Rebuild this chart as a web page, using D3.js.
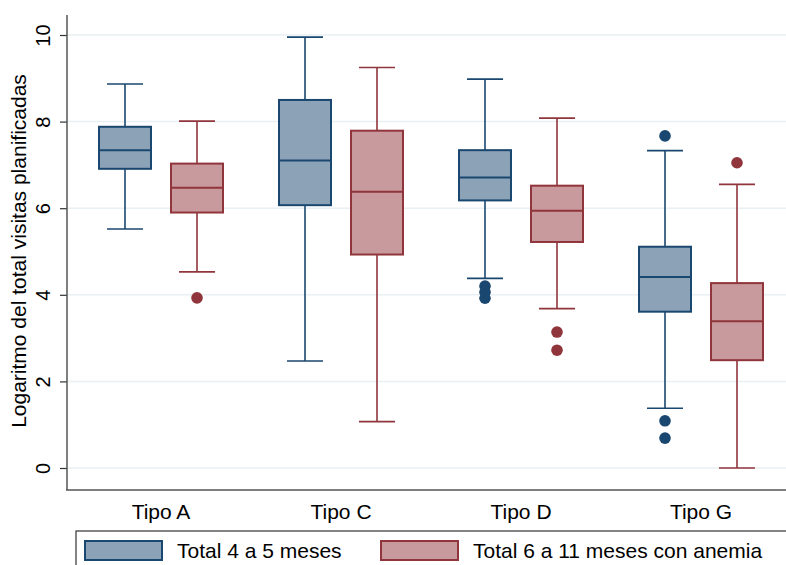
<!DOCTYPE html>
<html>
<head>
<meta charset="utf-8">
<script src="https://cdn.jsdelivr.net/npm/d3@7"></script>
<style>
  html, body { margin: 0; padding: 0; background: #ffffff; }
  svg { display: block; font-family: "Liberation Sans", Arial, sans-serif; }
</style>
</head>
<body>
<svg id="chart" width="786" height="565"></svg>
<script>
// Categories and series
const categories = ["Tipo A", "Tipo C", "Tipo D", "Tipo G"];
const seriesNames = ["Total 4 a 5 meses", "Total 6 a 11 meses con anemia"];
const yTicks = [0, 2, 4, 6, 8, 10];

// Box statistics: Total 4 a 5 meses
const lowA = [5.52, 2.47, 4.38, 1.38];
const q1A = [6.91, 6.07, 6.18, 3.61];
const medA = [7.34, 7.10, 6.71, 4.41];
const q3A = [7.88, 8.50, 7.34, 5.11];
const highA = [8.87, 9.95, 8.98, 7.33];
const outA = [[], [], [4.20, 4.06, 3.92], [7.67, 1.09, 0.69]];

// Box statistics: Total 6 a 11 meses con anemia
const lowB = [4.53, 1.07, 3.68, 0.00];
const q1B = [5.90, 4.93, 5.22, 2.49];
const medB = [6.47, 6.38, 5.94, 3.39];
const q3B = [7.03, 7.79, 6.52, 4.27];
const highB = [8.01, 9.25, 8.08, 6.55];
const outB = [[3.93], [], [3.14, 2.72], [7.05]];

const strokeColors = ["#1a476f", "#90353b"];
const fillColors = ["#8ca3b7", "#c89a9d"];

const stats = [
  { low: lowA, q1: q1A, med: medA, q3: q3A, high: highA, out: outA },
  { low: lowB, q1: q1B, med: medB, q3: q3B, high: highB, out: outB }
];

const boxes = [];
stats.forEach((s, si) => {
  categories.forEach((c, ci) => {
    boxes.push({
      cat: c, series: seriesNames[si], si,
      low: s.low[ci], q1: s.q1[ci], med: s.med[ci], q3: s.q3[ci], high: s.high[ci],
      out: s.out[ci]
    });
  });
});

const svg = d3.select("#chart");
const font = "\"Liberation Sans\", Arial, sans-serif";

const plot = { left: 67, right: 786, top: 15, bottom: 490 };

const x = d3.scaleBand().domain(categories).range([71, 791]).padding(0);
const xSub = d3.scaleBand().domain(seriesNames).range([-72, 72]).padding(0);
const y = d3.scaleLinear().domain([0, 10]).range([468, 35]);

const boxW = 52;
const capW = 36;

// Gridlines
svg.append("g")
  .selectAll("line")
  .data(yTicks)
  .join("line")
  .attr("x1", plot.left)
  .attr("x2", plot.right)
  .attr("y1", d => y(d))
  .attr("y2", d => y(d))
  .attr("stroke", "#e9f0f3")
  .attr("stroke-width", 1.5);

// Y axis
const yAxis = svg.append("g")
  .attr("transform", `translate(${plot.left},0)`)
  .call(d3.axisLeft(y).tickValues(yTicks).tickSize(7).tickPadding(0).tickFormat(d3.format("d")));
yAxis.select(".domain").remove();
yAxis.selectAll(".tick line").attr("stroke", "#333").attr("stroke-width", 1.2);
yAxis.selectAll(".tick text")
  .attr("font-family", font)
  .attr("font-size", 20)
  .attr("fill", "#000")
  .attr("text-anchor", "middle")
  .attr("x", null)
  .attr("dy", null)
  .attr("transform", "translate(-17,0) rotate(-90)");

// Axis lines
svg.append("line")
  .attr("x1", plot.left).attr("x2", plot.left)
  .attr("y1", plot.top).attr("y2", plot.bottom)
  .attr("stroke", "#555").attr("stroke-width", 1.5);
svg.append("line")
  .attr("x1", plot.left - 1).attr("x2", plot.right)
  .attr("y1", plot.bottom).attr("y2", plot.bottom)
  .attr("stroke", "#555").attr("stroke-width", 1.5);

// Y axis title
svg.append("text")
  .attr("transform", "translate(26,251) rotate(-90)")
  .attr("text-anchor", "middle")
  .attr("font-family", font)
  .attr("font-size", 21)
  .attr("fill", "#000")
  .text("Logaritmo del total visitas planificadas");

// X category labels
const xAxis = svg.append("g")
  .attr("transform", `translate(0,${plot.bottom})`)
  .call(d3.axisBottom(x).tickSize(0).tickPadding(0));
xAxis.select(".domain").remove();
xAxis.selectAll(".tick text")
  .attr("font-family", font)
  .attr("font-size", 21)
  .attr("fill", "#000")
  .attr("dy", null)
  .attr("y", 29);

// Boxes
const cx = d => x(d.cat) + x.bandwidth() / 2 + xSub(d.series) + xSub.bandwidth() / 2;

const g = svg.append("g").selectAll("g").data(boxes).join("g");

// Whiskers
g.append("line")
  .attr("x1", cx).attr("x2", cx)
  .attr("y1", d => y(d.q3)).attr("y2", d => y(d.high))
  .attr("stroke", d => strokeColors[d.si]).attr("stroke-width", 1.6);
g.append("line")
  .attr("x1", cx).attr("x2", cx)
  .attr("y1", d => y(d.q1)).attr("y2", d => y(d.low))
  .attr("stroke", d => strokeColors[d.si]).attr("stroke-width", 1.6);
// Caps
g.append("line")
  .attr("x1", d => cx(d) - capW / 2).attr("x2", d => cx(d) + capW / 2)
  .attr("y1", d => y(d.high)).attr("y2", d => y(d.high))
  .attr("stroke", d => strokeColors[d.si]).attr("stroke-width", 1.6);
g.append("line")
  .attr("x1", d => cx(d) - capW / 2).attr("x2", d => cx(d) + capW / 2)
  .attr("y1", d => y(d.low)).attr("y2", d => y(d.low))
  .attr("stroke", d => strokeColors[d.si]).attr("stroke-width", 1.6);
// Box
g.append("rect")
  .attr("x", d => cx(d) - boxW / 2)
  .attr("width", boxW)
  .attr("y", d => y(d.q3))
  .attr("height", d => y(d.q1) - y(d.q3))
  .attr("fill", d => fillColors[d.si])
  .attr("stroke", d => strokeColors[d.si])
  .attr("stroke-width", 2);
// Median
g.append("line")
  .attr("x1", d => cx(d) - boxW / 2).attr("x2", d => cx(d) + boxW / 2)
  .attr("y1", d => y(d.med)).attr("y2", d => y(d.med))
  .attr("stroke", d => strokeColors[d.si]).attr("stroke-width", 2);
// Outliers
g.selectAll("circle")
  .data(d => d.out.map(v => ({ v, d })))
  .join("circle")
  .attr("cx", o => cx(o.d))
  .attr("cy", o => y(o.v))
  .attr("r", 5.8)
  .attr("fill", o => strokeColors[o.d.si]);

// Legend
const legend = svg.append("g");
legend.append("rect")
  .attr("x", 76).attr("y", 531)
  .attr("width", 740).attr("height", 60)
  .attr("fill", "#fff")
  .attr("stroke", "#333").attr("stroke-width", 1.2);

const legendX = [85, 381];
seriesNames.forEach((name, i) => {
  legend.append("rect")
    .attr("x", legendX[i]).attr("y", 541)
    .attr("width", 77).attr("height", 19)
    .attr("fill", fillColors[i])
    .attr("stroke", strokeColors[i]).attr("stroke-width", 2);
  legend.append("text")
    .attr("x", legendX[i] + 92).attr("y", 558)
    .attr("font-family", font)
    .attr("font-size", 21)
    .attr("fill", "#000")
    .text(name);
});
</script>
</body>
</html>
